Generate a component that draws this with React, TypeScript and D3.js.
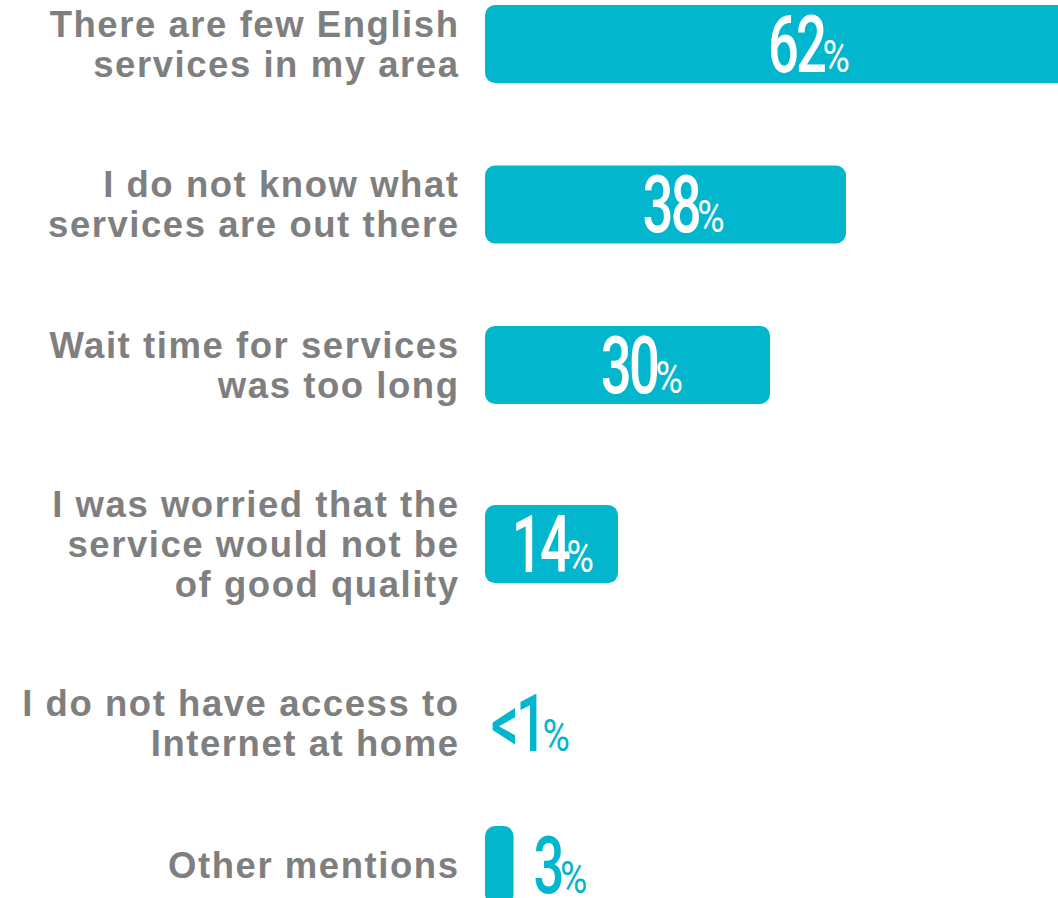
import React, { useEffect, useRef } from "react";
import * as d3 from "d3";

const categories: string[][] = [
  ["There are few English", "services in my area"],
  ["I do not know what", "services are out there"],
  ["Wait time for services", "was too long"],
  ["I was worried that the", "service would not be", "of good quality"],
  ["I do not have access to", "Internet at home"],
  ["Other mentions"],
];
const values: number[] = [62, 38, 30, 14, 0, 3];
const valueLabels: string[] = ["62", "38", "30", "14", "<1", "3"];

const W = 1058;
const H = 898;
const TEAL = "#02b6cd";
const GRAY = "#7f7f7f";

export default function App() {
  const ref = useRef<SVGSVGElement | null>(null);

  useEffect(() => {
    const svg = d3.select(ref.current);
    svg.selectAll("*").remove();

    const x0 = 485;
    const x = d3.scaleLinear().domain([0, 100]).range([0, 950]);

    // vertical layout: rows spaced according to number of label lines
    const k = 2.3;
    const units: number[] = [0];
    for (let i = 1; i < categories.length; i++) {
      units.push(units[i - 1] + k + (categories[i - 1].length + categories[i].length) / 2);
    }
    const y = d3.scaleLinear().domain([0, units[units.length - 1]]).range([44, 865]);

    const barH = 78;
    const lineH = 40;

    const rows = svg
      .selectAll("g.row")
      .data(categories.map((c, i) => ({ c, v: values[i], lab: valueLabels[i], cy: y(units[i]) })))
      .join("g")
      .attr("class", "row");

    rows.each(function (d) {
      const g = d3.select(this);
      const n = d.c.length;
      // category label
      const t = g
        .append("text")
        .attr("text-anchor", "end")
        .attr("font-family", "'Liberation Sans', Arial, sans-serif")
        .attr("font-weight", "bold")
        .attr("font-size", 36.5)
        .attr("letter-spacing", 1.55)
        .attr("fill", GRAY);
      d.c.forEach((line, j) => {
        t.append("tspan")
          .attr("x", 459.5)
          .attr("y", d.cy + (j - (n - 1) / 2) * lineH + 13)
          .text(line);
      });

      const w = x(d.v);
      if (w > 0) {
        g.append("rect")
          .attr("x", x0)
          .attr("y", d.cy - barH / 2)
          .attr("width", w)
          .attr("height", barH)
          .attr("rx", 10)
          .attr("fill", TEAL);
      }

      const inside = d.v >= 10;
      const color = inside ? "#ffffff" : TEAL;
      const lg = g.append("g");
      const sx = 0.68;
      const num = lg
        .append("text")
        .attr("font-family", "Roboto, 'Liberation Sans', sans-serif")
        .attr("font-weight", 500)
        .attr("font-size", 80)
        .attr("letter-spacing", -4)
        .attr("fill", color)
        .attr("transform", `scale(${sx},1)`)
        .text(d.lab);
      const numW = ((num.node() as SVGTextElement).getComputedTextLength() - 4) * sx;
      const psx = 0.85;
      const pct = lg
        .append("text")
        .attr("font-family", "Roboto, 'Liberation Sans', sans-serif")
        .attr("font-weight", 400)
        .attr("font-size", 44)
        .attr("fill", color)
        .attr("transform", `translate(${numW + 1},0) scale(${psx},1)`)
        .text("%");
      const pctW = (pct.node() as SVGTextElement).getComputedTextLength() * psx;
      const total = numW + 1 + pctW;
      const baseline = d.cy + 28;
      let left: number;
      if (inside) {
        const cx = x0 + w * (d.v > 20 ? 0.55 : 0.51);
        left = cx - total / 2;
      } else {
        left = x0 + w + (w > 0 ? 20 : 6);
      }
      lg.attr("transform", `translate(${left},${baseline})`);
    });
  }, []);

  return (
    <svg
      ref={ref}
      width={W}
      height={H}
      style={{ position: "absolute", left: 0, top: 0, background: "#ffffff" }}
    />
  );
}
